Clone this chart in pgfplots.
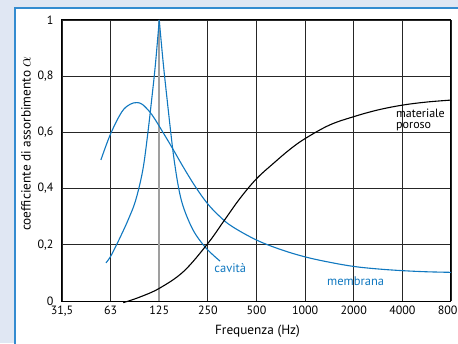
\documentclass[border=0pt]{standalone}
\usepackage{pgfplots}
\pgfplotsset{compat=1.18}
\usepackage{fontspec}
\setmainfont{PT Sans}
\definecolor{bgc}{RGB}{224,231,243}
\definecolor{frameblue}{RGB}{52,140,208}
\definecolor{curveblue}{RGB}{16,120,192}
\begin{document}
\begin{tikzpicture}[x=1pt,y=1pt]
\useasboundingbox (0,0) rectangle (458,343);
\clip (0,0) rectangle (458,343);
\fill[bgc] (0,0) rectangle (458,343);
\fill[white] (15,-5) rectangle (470,335);
\draw[frameblue, line width=2pt] (15,-5) -- (15,335) -- (470,335);
\begin{axis}[
  at={(62pt,42pt)}, anchor=south west,
  width=389pt, height=281pt, scale only axis,
  xmin=0, xmax=8, ymin=0, ymax=1,
  xtick={0,1,2,3,4,5,6,7,8},
  xticklabels={{31,5},63,125,250,500,1000,2000,4000,8000},
  ytick={0,0.2,0.4,0.6,0.8,1},
  yticklabels={0,{0,2},{0,4},{0,6},{0,8},1},
  grid=major,
  major grid style={black!85, line width=0.8pt},
  major tick length=0pt,
  axis line style={black, line width=1pt},
  clip=false,
  tick label style={font=\fontsize{12}{14}\selectfont},
  xticklabel style={yshift=-1.5pt},
  yticklabel style={xshift=-5pt},
  xlabel={Frequenza (Hz)},
  ylabel={coefficiente di assorbimento {\fontsize{17}{17}\selectfont$\alpha$}},
  every axis x label/.style={at={(axis description cs:0.5026,-0.107)}, anchor=center, font=\fontsize{13.3}{15}\selectfont},
  every axis y label/.style={at={(axis description cs:-0.0925,0.56)}, rotate=90, anchor=center, font=\fontsize{13.3}{15}\selectfont},
]
% 125 Hz grid line (grey, thicker)
\addplot[gray!75, line width=1.6pt] coordinates {(2,0) (2,1)};
% membrana
\addplot[curveblue, line width=1.1pt, smooth, tension=0.6] coordinates {
(0.80,0.502) (1.0,0.595) (1.23,0.673) (1.4,0.700) (1.54,0.706) (1.65,0.700)
(1.8,0.674) (1.9,0.650) (2.0,0.622) (2.25,0.550) (2.5,0.475) (2.75,0.405)
(3.0,0.345) (3.25,0.300) (3.5,0.265) (4.0,0.217) (4.5,0.183) (5.0,0.157)
(5.5,0.138) (6.0,0.123) (6.5,0.114) (7.0,0.108) (7.5,0.104) (8.0,0.102)};
% cavita, left branch
\addplot[curveblue, line width=1.1pt, smooth, tension=0.6] coordinates {
(0.905,0.136) (1.02,0.165) (1.26,0.25) (1.4,0.305) (1.5,0.35) (1.6,0.415)
(1.68,0.485) (1.76,0.59) (1.84,0.71) (1.92,0.84) (2.0,1.0)};
% cavita, right branch
\addplot[curveblue, line width=1.1pt, smooth, tension=0.6] coordinates {
(2.0,1.0) (2.08,0.85) (2.16,0.72) (2.24,0.595) (2.30,0.51) (2.38,0.42)
(2.46,0.355) (2.57,0.300) (2.72,0.245) (2.91,0.199) (3.08,0.168) (3.25,0.142)};
% materiale poroso
\addplot[black, line width=1.1pt, smooth, tension=0.6] coordinates {
(1.26,-0.006) (1.6,0.014) (2.0,0.045) (2.5,0.105) (3.0,0.205) (3.33,0.285)
(3.66,0.365) (4.0,0.435) (4.35,0.49) (4.69,0.54) (5.0,0.578) (5.5,0.626)
(6.0,0.656) (6.5,0.680) (7.0,0.697) (7.5,0.708) (8.0,0.715)};
\node[text=curveblue, font=\fontsize{12.5}{14}\selectfont] at (axis cs:3.46,0.117) {cavità};
\node[text=curveblue, font=\fontsize{12.5}{14}\selectfont] at (axis cs:6.04,0.071) {membrana};
\node[anchor=west, align=left, inner sep=0pt, font=\fontsize{12}{11.5}\selectfont] at (axis cs:6.87,0.644) {materiale\\poroso};
\end{axis}
\end{tikzpicture}
\end{document}
